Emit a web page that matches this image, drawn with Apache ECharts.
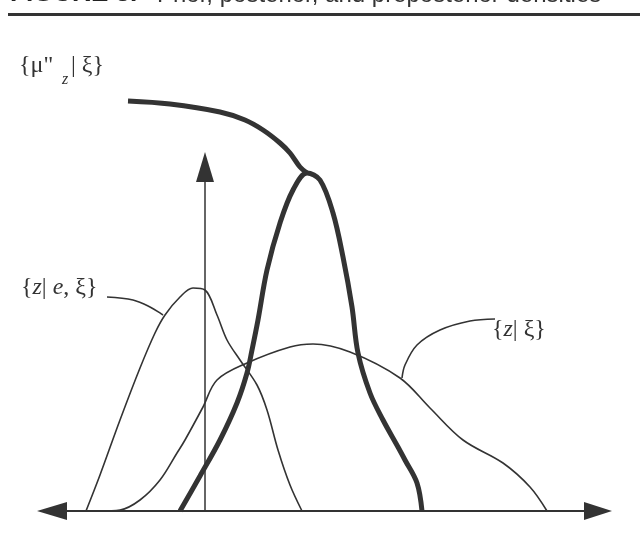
<!DOCTYPE html>
<html>
<head>
<meta charset="utf-8">
<style>
html,body{margin:0;padding:0;background:#fff;}
#chart{width:640px;height:555px;}
</style>
<script src="https://cdn.jsdelivr.net/npm/echarts@6/dist/echarts.min.js"></script>
</head>
<body>
<div id="chart"></div>
<script>
// z axis (horizontal) and density (vertical)
var priorZ = [-10.5, -8.5, -6.5, -4.5, -2.8, -2.0, -0.2, 1.2, 4.2, 8.5, 10.8, 14.5, 19.5, 22.5, 25.8, 29.8, 32.5, 34.2];
var priorD = [0, 0.1, 1.1, 3.1, 5.8, 7.1, 10.4, 13.1, 14.8, 16.4, 16.7, 15.9, 13.3, 10.3, 7.1, 4.8, 2.4, 0];

var likeZ = [-11.9, -10.5, -8.5, -6.5, -5.0, -4.0, -2.5, -1.2, 0, 1.2, 2.2, 3.5, 5.2, 6.2, 7.3, 8.5, 9.7];
var likeD = [0, 3.6, 9.1, 14.3, 17.8, 19.6, 21.4, 22.3, 22.1, 19.6, 17.1, 15.1, 12.6, 10.1, 6.1, 2.6, 0];

var postZ = [-2.5, -0.5, 1.5, 3.2, 4.2, 4.7, 5.3, 6.2, 7.5, 8.8, 10.2, 11.5, 12.8, 13.8, 14.7, 15.3, 16.5, 17.8, 19.3, 20.0, 21.2, 21.7];
var postD = [0, 3.5, 7.1, 10.8, 13.8, 16.1, 19.1, 24.1, 28.8, 32.1, 33.8, 33.1, 29.8, 25.4, 20.4, 15.8, 11.8, 9.1, 6.4, 5.1, 2.8, 0];

var preZ = [-7.7, -3.5, 1.5, 4.0, 5.8, 7.5, 8.5, 9.5, 10.2];
var preD = [41.0, 40.7, 39.9, 39.1, 38.1, 36.8, 35.8, 34.4, 33.8];

var leaderLikeZ = [-9.8, -7.2, -5.5, -4.2];
var leaderLikeD = [21.4, 21.1, 20.4, 19.6];
var leaderPriorZ = [19.7, 20.0, 21.2, 23.5, 26.5, 29.0];
var leaderPriorD = [13.3, 14.6, 16.6, 18.1, 19.0, 19.2];

var axisZ = [-15.3, 39.3];
var verticalTop = 34.4;

var labelPreHead = '{\u03bc"';
var labelPreSub = 'z';
var labelPreTail = '| \u03be}';
var labelLike = '{\u200B{i|z}| {i|e}, \u03be}';
var labelPrior = '{\u200B{i|z}| \u03be}';
var figureTag = 'FIGURE 3.';
var figureTitle = 'Prior, posterior, and preposterior densities';

function pairs(xs, ys) { return xs.map(function (x, i) { return [x, ys[i]]; }); }

var ink = '#333333';
function curve(name, xs, ys, width, smooth) {
  return {
    name: name, type: 'line', data: pairs(xs, ys), symbol: 'none', showSymbol: false,
    smooth: smooth, silent: true, clip: false,
    lineStyle: { color: ink, width: width }
  };
}

var chart = echarts.init(document.getElementById('chart'), null, { renderer: 'canvas' });
var serif = '"Liberation Serif", "DejaVu Serif", serif';
var richStyles = {
  i: { fontFamily: serif, fontStyle: 'italic', fontSize: 24, fill: ink }
};
var option = {
  animation: false,
  backgroundColor: '#ffffff',
  grid: { left: 0, right: 0, top: 0, bottom: 0 },
  xAxis: { type: 'value', min: -20.5, max: 43.5, show: false },
  yAxis: { type: 'value', min: -4.4, max: 51.1, show: false },
  series: [
    curve('prior', priorZ, priorD, 1.6, 0.35),
    curve('likelihood', likeZ, likeD, 1.6, 0.35),
    curve('posterior', postZ, postD, 5, 0.35),
    curve('preposterior', preZ, preD, 5, 0.35),
    curve('leader1', leaderLikeZ, leaderLikeD, 1.6, 0.35),
    curve('leader2', leaderPriorZ, leaderPriorD, 1.6, 0.35),
    {
      type: 'line', data: [], silent: true,
      markLine: {
        silent: true, animation: false, label: { show: false },
        lineStyle: { color: ink, type: 'solid' },
        data: [
          [{ coord: [axisZ[0], 0], symbol: 'triangle', symbolSize: [18, 30], lineStyle: { width: 2, color: ink } },
           { coord: [axisZ[1], 0], symbol: 'triangle', symbolSize: [18, 28] }],
          [{ coord: [0, 0], symbol: 'none', lineStyle: { width: 1.5, color: ink } },
           { coord: [0, verticalTop], symbol: 'triangle', symbolSize: [18, 30] }]
        ]
      }
    }
  ],
  graphic: [
    { type: 'text', x: 10, y: -19, style: { text: figureTag, font: 'bold 26px "Liberation Sans", Arial, sans-serif', fill: '#222' } },
    { type: 'text', x: 157, y: -17, style: { text: figureTitle, font: '24px "Liberation Sans", Arial, sans-serif', fill: '#333' } },
    { type: 'rect', shape: { x: 8, y: 13, width: 632, height: 3 }, style: { fill: '#333' } },
    { type: 'text', x: 19, y: 54, style: { text: labelPreHead, font: '24px ' + serif, fill: ink } },
    { type: 'text', x: 62, y: 72, style: { text: labelPreSub, font: 'italic 16px ' + serif, fill: ink } },
    { type: 'text', x: 71, y: 54, style: { text: labelPreTail, font: '24px ' + serif, fill: ink } },
    { type: 'text', x: 21, y: 276, style: { text: labelLike, font: '24px ' + serif, fill: ink, rich: richStyles } },
    { type: 'text', x: 492, y: 318, style: { text: labelPrior, font: '24px ' + serif, fill: ink, rich: richStyles } }
  ]
};
chart.setOption(option);
</script>
</body>
</html>
